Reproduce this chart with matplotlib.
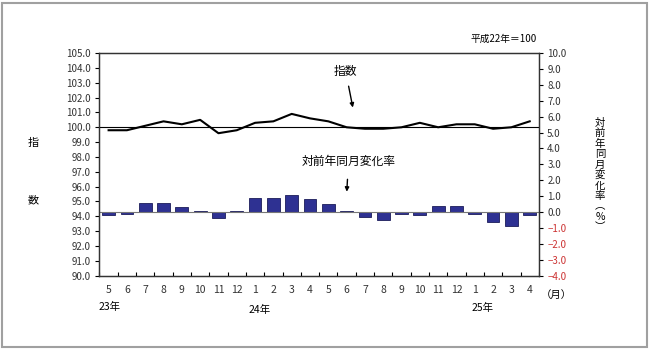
import numpy as np
import matplotlib.pyplot as plt
from matplotlib.patches import Rectangle
from matplotlib.transforms import blended_transform_factory

plt.rcParams['font.family'] = ['Noto Sans CJK JP', 'DejaVu Sans']
plt.rcParams['font.size'] = 7

# 平成23年5月 ～ 平成25年4月
months = ['5', '6', '7', '8', '9', '10', '11', '12', '1', '2', '3', '4',
          '5', '6', '7', '8', '9', '10', '11', '12', '1', '2', '3', '4']
index_values = [99.8, 99.8, 100.1, 100.4, 100.2, 100.5, 99.6, 99.8,
                100.3, 100.4, 100.9, 100.6, 100.4, 100.0, 99.9, 99.9,
                100.0, 100.3, 100.0, 100.2, 100.2, 99.9, 100.0, 100.4]
yoy_change = [-0.2, -0.1, 0.6, 0.6, 0.3, 0.1, -0.4, 0.1,
              0.9, 0.9, 1.1, 0.8, 0.5, 0.1, -0.3, -0.5,
              -0.1, -0.2, 0.4, 0.4, -0.1, -0.6, -0.9, -0.2]
left_ticks = np.arange(90.0, 105.1, 1.0)
right_ticks = np.arange(-4.0, 10.1, 1.0)
year_labels = ['23年', '24年', '25年']

x = np.arange(len(months))

fig = plt.figure(figsize=(6.5, 3.49), dpi=100)
ax = fig.add_axes([0.153, 0.210, 0.676, 0.638])
ax2 = ax.twinx()

# 対前年同月変化率 (右軸)
ax2.bar(x, yoy_change, width=0.7, color='#2e3192', edgecolor='#1c1c5a', linewidth=0.6)
ax2.axhline(0, color='#777777', linewidth=0.8)
ax2.set_ylim(-4, 10)
ax2.set_yticks(right_ticks)
ax2.set_yticklabels([f'{v:.1f}'.replace('-', '\u2212') for v in right_ticks])
for lbl, v in zip(ax2.get_yticklabels(), right_ticks):
    lbl.set_color('#cc3333' if v < 0 else '#333333')
ax2.tick_params(axis='y', direction='out', length=3, width=0.8, labelsize=7, pad=3)

# 指数 (左軸)
ax.plot(x, index_values, color='black', linewidth=1.5, zorder=3)
ax.axhline(100, color='black', linewidth=0.8)
ax.set_ylim(90, 105)
ax.set_yticks(left_ticks)
ax.set_yticklabels([f'{v:.1f}' for v in left_ticks], color='#333333')
ax.tick_params(axis='y', direction='out', length=3, width=0.8, labelsize=7, pad=3)
ax.set_zorder(ax2.get_zorder() + 1)
ax.patch.set_visible(False)

ax.set_xlim(-0.5, len(months) - 0.5)
ax.set_xticks(np.arange(-0.5, len(months), 1.0))
ax.set_xticklabels([])
ax.tick_params(axis='x', which='major', direction='in', length=3, width=0.8)
ax.set_xticks(x, minor=True)
ax.set_xticklabels(months, minor=True)
ax.tick_params(axis='x', which='minor', length=0, labelsize=7.5, pad=7, labelcolor='#333333')

for a in (ax, ax2):
    for s in a.spines.values():
        s.set_linewidth(0.9)
        s.set_color('#333333')

# 年の表示
tr = blended_transform_factory(ax.transData, ax.transAxes)
ax.text(-0.55, -0.141, year_labels[0], transform=tr, ha='left', va='center', fontsize=7.5)
ax.text(8.27, -0.155, year_labels[1], transform=tr, ha='center', va='center', fontsize=7.5)
ax.text(20.44, -0.145, year_labels[2], transform=tr, ha='center', va='center', fontsize=7.5)
ax.text(1.04, -0.087, '（月）', transform=ax.transAxes, ha='center', va='center', fontsize=7.5)

# 軸ラベル
fig.text(33 / 650, 1 - 143 / 349, '指', ha='center', va='center', fontsize=8)
fig.text(33 / 650, 1 - 200 / 349, '数', ha='center', va='center', fontsize=8)
fig.text(600 / 650, 1 - 175 / 349, '\n'.join('対前年同月変化率︵%︶'),
         ha='center', va='center', fontsize=7.5, linespacing=1.05)
fig.text(537 / 650, 1 - 39 / 349, '平成22年＝100', ha='right', va='center', fontsize=7)

# 注記
ax.annotate('指数', xy=(13.34, 101.33), xytext=(12.95, 103.76),
            ha='center', va='center', fontsize=8.5,
            arrowprops=dict(arrowstyle='-|>', color='black', lw=1.0,
                            mutation_scale=6, shrinkA=4, shrinkB=0))
ax.annotate('対前年同月変化率', xy=(13.01, 95.66), xytext=(13.1, 97.68),
            ha='center', va='center', fontsize=8.5,
            arrowprops=dict(arrowstyle='-|>', color='black', lw=1.0,
                            mutation_scale=6, shrinkA=6, shrinkB=0))

# 外枠
fig.patches.append(Rectangle((2 / 650, 2 / 349), 645 / 650, 344 / 349,
                             transform=fig.transFigure, fill=False,
                             edgecolor='#a0a0a0', linewidth=1.5))

fig.savefig('out.png', dpi=100)
